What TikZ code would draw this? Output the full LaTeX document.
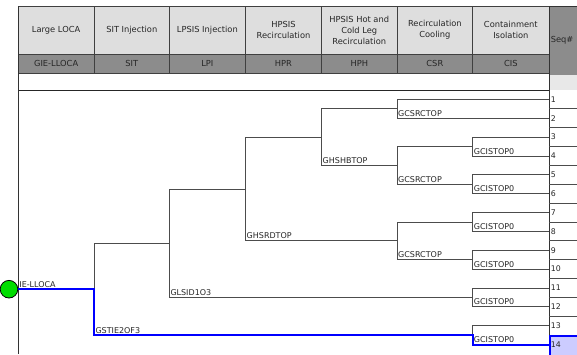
\documentclass[tikz,border=0pt]{standalone}
\usepackage{fontspec}
\setmainfont{DejaVu Sans}
\definecolor{hdrlight}{RGB}{222,222,222}
\definecolor{hdrdark}{RGB}{140,140,140}
\definecolor{seqlight}{RGB}{232,232,232}
\definecolor{ieGreen}{RGB}{0,221,0}
\definecolor{pathblue}{RGB}{0,0,255}
\definecolor{seqhl}{RGB}{204,204,255}
\begin{document}
\begin{tikzpicture}[x=1pt, y=-1pt,
  hdrbox/.style = {draw=black!75, fill=hdrlight, line width=0.8pt},
  codebox/.style = {draw=black!75, fill=hdrdark, line width=0.8pt},
  hdrtext/.style = {align=center, inner sep=0pt, font=\fontsize{8.3}{11}\selectfont, text=black!85},
  codetext/.style = {inner sep=0pt, font=\fontsize{8.3}{10}\selectfont, text=black!85},
  br/.style = {draw=black!70, line width=0.8pt},
  hot/.style = {draw=pathblue, line width=2pt},
  brlab/.style = {anchor=south west, inner xsep=1pt, inner ysep=1.6pt, font=\fontsize{8}{9}\selectfont, text=black!85},
  seqlab/.style = {anchor=west, inner xsep=1.6pt, inner ysep=0pt, font=\fontsize{7.8}{9}\selectfont, text=black!85},
  init/.style = {draw=black, fill=ieGreen, circle, minimum size=17.6pt, inner sep=0pt, line width=0.8pt}]
\useasboundingbox (0,0) rectangle (577,354);

\foreach \xa/\xb/\title/\abbr [count=\k] in {
  18/94.3/Large LOCA/GIE-LLOCA,
  94.3/169.3/SIT Injection/SIT,
  169.3/245.5/LPSIS Injection/LPI,
  245.5/321.5/HPSIS\\Recirculation/HPR,
  321.5/397/HPSIS Hot and\\Cold Leg\\Recirculation/HPH,
  397/472.7/Recirculation\\Cooling/CSR,
  472.7/549/Containment\\Isolation/CIS}
{
  \draw[hdrbox] (\xa,6) rectangle (\xb,54);
  \draw[codebox] (\xa,54) rectangle (\xb,73);
  \node[hdrtext] (title\k) at ({(\xa+\xb)/2},30) {\title};
  \node[codetext] (abbr\k) at ({(\xa+\xb)/2},63.5) {\abbr};
}
\fill[hdrdark] (549,6) rectangle (577,75);
\fill[seqlight] (549,75) rectangle (577,90);
\node[seqlab, font=\fontsize{8.3}{10}\selectfont] (seqhead) at (549,40.5) {Seq\#};
\draw[black!85, line width=1.6pt] (18,90.6) -- (549,90.6);
\draw[black!80, line width=0.9pt] (18,6) -- (18,354);
\draw[black!80, line width=0.9pt] (549,6) -- (549,354);
\draw[black!80, line width=0.8pt] (549,6) -- (577,6);

\foreach \i in {1,...,14} {
  \coordinate (e\i) at (549,{99.3+(\i-1)*18.87});
}
\foreach \i in {1,...,13} {
  \draw[black!70, line width=0.8pt] (549,{108.74+(\i-1)*18.87}) -- (577,{108.74+(\i-1)*18.87});
}
\filldraw[fill=seqhl, draw=pathblue, line width=1.6pt] (549.8,336) rectangle (580,358);
\foreach \i in {1,...,14} {
  \node[seqlab] (seq\i) at (e\i) {\i};
}

\node[init] (ie) at (9,289.19) {};
\coordinate (sit) at (94.3,289.19);
\coordinate (lpi) at (169.3,243.19);
\coordinate (hpr) at (245.5,188.94);
\coordinate (hph) at (321.5,137.04);
\coordinate (csra) at (397,108.74);
\coordinate (csrb) at (397,165.35);
\coordinate (csrc) at (397,240.83);
\coordinate (cisa) at (472.7,146.48);
\coordinate (cisb) at (472.7,184.22);
\coordinate (cisc) at (472.7,221.96);
\coordinate (cisd) at (472.7,259.70);
\coordinate (cise) at (472.7,297.44);
\coordinate (cisf) at (472.7,335.18);

\draw[br] (sit) |- (lpi);
\draw[br] (lpi) |- (hpr);
\draw[br] (lpi) |- (cise);
\draw[br] (hpr) |- (hph);
\draw[br] (hpr) |- (csrc);
\draw[br] (hph) |- (csra);
\draw[br] (hph) |- (csrb);
\draw[br] (csra) |- (e1);
\draw[br] (csra) |- (e2);
\draw[br] (csrb) |- (cisa);
\draw[br] (csrb) |- (cisb);
\draw[br] (csrc) |- (cisc);
\draw[br] (csrc) |- (cisd);
\draw[br] (cisa) |- (e3);
\draw[br] (cisa) |- (e4);
\draw[br] (cisb) |- (e5);
\draw[br] (cisb) |- (e6);
\draw[br] (cisc) |- (e7);
\draw[br] (cisc) |- (e8);
\draw[br] (cisd) |- (e9);
\draw[br] (cisd) |- (e10);
\draw[br] (cise) |- (e11);
\draw[br] (cise) |- (e12);
\draw[br] (cisf) |- (e13);
\draw[hot] (ie.east) -- (sit) |- (cisf) |- (e14);

\node[brlab] (lab0) at (ie.east) {IE-LLOCA};
\node[brlab] (lab1) at (sit |- cisf) {GSTIE2OF3};
\node[brlab] (lab2) at (lpi |- cise) {GLSID1O3};
\node[brlab] (lab3) at (hpr |- csrc) {GHSRDTOP};
\node[brlab] (lab4) at (hph |- csrb) {GHSHBTOP};
\node[brlab] (lab5) at (csra |- e2) {GCSRCTOP};
\node[brlab] (lab6) at (csrb |- cisb) {GCSRCTOP};
\node[brlab] (lab7) at (csrc |- cisd) {GCSRCTOP};
\node[brlab] (lab8) at (cisa |- e4) {GCISTOP0};
\node[brlab] (lab9) at (cisb |- e6) {GCISTOP0};
\node[brlab] (lab10) at (cisc |- e8) {GCISTOP0};
\node[brlab] (lab11) at (cisd |- e10) {GCISTOP0};
\node[brlab] (lab12) at (cise |- e12) {GCISTOP0};
\node[brlab] (lab13) at (cisf |- e14) {GCISTOP0};
\end{tikzpicture}
\end{document}
